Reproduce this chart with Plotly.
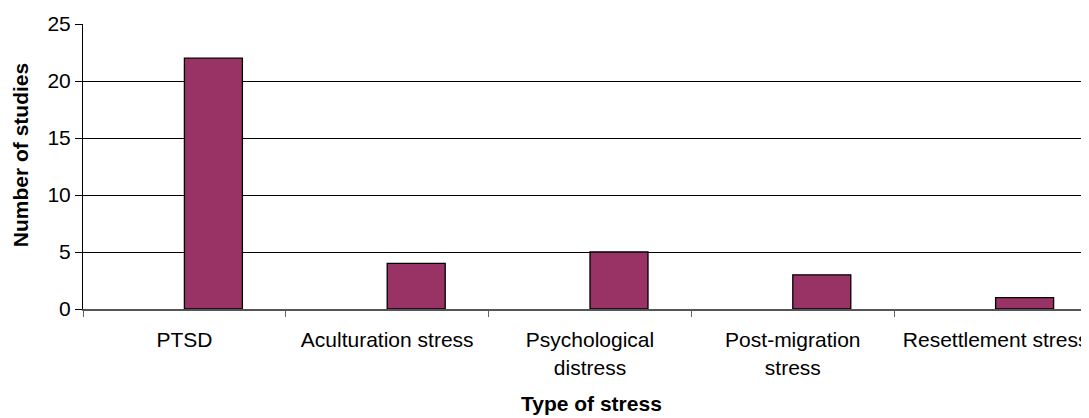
import plotly.graph_objects as go

categories = ["PTSD", "Aculturation stress", "Psychological<br>distress",
              "Post-migration<br>stress", "Resettlement stress"]
studies = [22, 4, 5, 3, 1]
y_ticks = [0, 5, 10, 15, 20, 25]

FONT = "Liberation Sans, Arial, sans-serif"

fig = go.Figure()
fig.add_trace(go.Bar(
    x=categories, y=studies,
    width=0.286, offset=0,
    marker=dict(color="#993366", line=dict(color="#000000", width=1.3)),
    showlegend=False,
))

fig.update_layout(
    width=1089, height=418,
    margin=dict(l=75, r=0, t=16, b=117),
    paper_bgcolor="white", plot_bgcolor="white",
    font=dict(family=FONT, size=21, color="#000000"),
    xaxis=dict(
        type="category", range=[-0.5, 4.5], automargin=False,
        tickson="boundaries", ticks="outside", ticklen=6, tickcolor="#666666",
        showline=True, linecolor="#555555", linewidth=2,
        showgrid=False, zeroline=False,
        ticklabelstandoff=11,
        tickfont=dict(size=21),
    ),
    yaxis=dict(
        range=[0, 25], tickvals=y_ticks, automargin=False,
        ticks="outside", ticklen=7, tickcolor="#000000",
        showline=True, linecolor="#000000", linewidth=1,
        showgrid=True, gridcolor="#000000", gridwidth=1,
        zeroline=False,
        tickfont=dict(size=21),
    ),
    annotations=[
        dict(text="<b>Type of stress</b>", xref="paper", yref="paper",
             x=0.501, y=-0.333, xanchor="center", yanchor="middle",
             showarrow=False, font=dict(size=21)),
        dict(text="<b>Number of studies</b>", xref="paper", yref="paper",
             x=-0.0616, y=0.538, xanchor="center", yanchor="middle",
             textangle=-90, showarrow=False, font=dict(size=21)),
    ],
)

fig.write_html("out.html")
